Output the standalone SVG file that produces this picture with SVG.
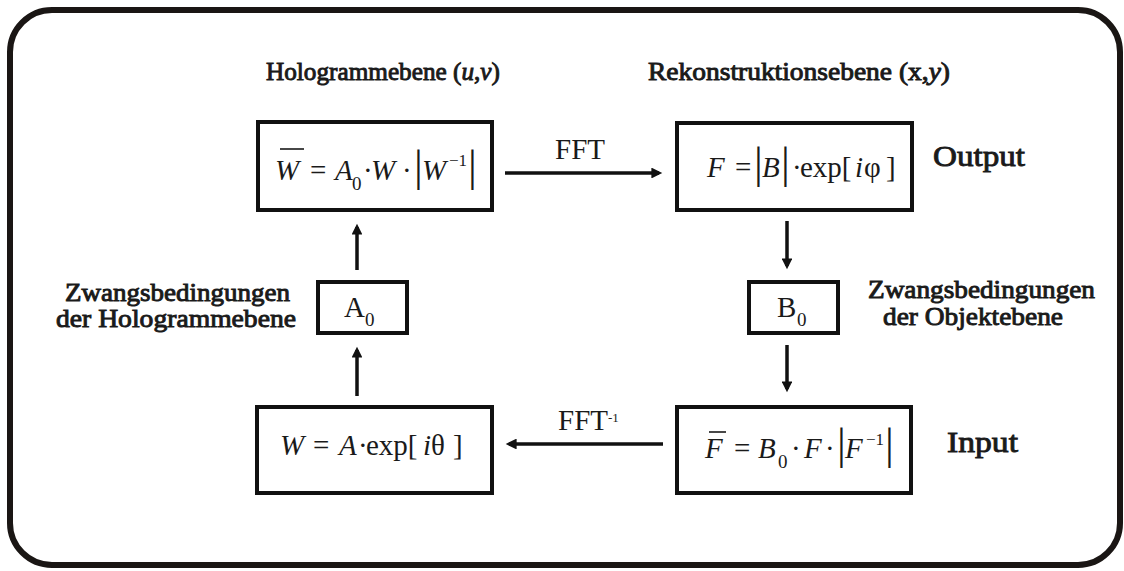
<svg xmlns="http://www.w3.org/2000/svg" width="1124" height="571" viewBox="0 0 1124 571">
<style>
.frame{fill:none;stroke:#1a1614;stroke-width:6}
.box{fill:#fff;stroke:#111;stroke-width:4}
.lbl{font-family:"Liberation Serif","Times New Roman",serif;fill:#1a1a1a;stroke:#1a1a1a;stroke-width:0.9}
.f{font-family:"Liberation Serif","Times New Roman",serif;fill:#1a1a1a;font-size:29px}
.i{font-style:italic}
.sub{font-size:19px}
.sup{font-size:17px}
.bar{font-size:44px}
.con{stroke:#111;stroke-width:3.5;fill:none}
.ov{stroke:#1a1a1a;stroke-width:1.6}
</style>
<defs>
<marker id="ah" viewBox="0 0 10 10" refX="7" refY="5" markerWidth="3.3" markerHeight="3.1" orient="auto" markerUnits="strokeWidth">
<path d="M0,0 L10,5 L0,10 z" fill="#111"/>
</marker>
</defs>
<rect class="frame" x="10" y="10" width="1110" height="555" rx="42"/>
<text class="lbl" x="266" y="80" font-size="25" textLength="234" lengthAdjust="spacingAndGlyphs">Hologrammebene (<tspan font-style="italic">u</tspan>,<tspan font-style="italic">v</tspan>)</text>
<text class="lbl" x="648" y="80" font-size="25" textLength="302" lengthAdjust="spacingAndGlyphs">Rekonstruktionsebene (x,<tspan font-style="italic">y</tspan>)</text>
<g id="n-wbar">
<rect class="box" x="258" y="122" width="234" height="88"/>
<text class="f i" x="275" y="180">W</text>
<line class="ov" x1="280" y1="149" x2="304" y2="149"/>
<text class="f" x="310" y="180">=</text>
<text class="f i" x="335" y="180">A</text>
<text class="f sub" x="352" y="190">0</text>
<text class="f" x="363" y="180">·</text>
<text class="f i" x="371" y="180">W</text>
<text class="f" x="402" y="180">·</text>
<text class="f bar" x="414" y="181">|</text>
<text class="f i" x="422" y="180">W</text>
<text class="f sup" x="449" y="166">−1</text>
<text class="f bar" x="468" y="181">|</text>
</g>
<g id="n-f">
<rect class="box" x="677" y="123" width="235" height="87"/>
<text class="f i" x="707" y="177">F</text>
<text class="f" x="735" y="177">=</text>
<text class="f bar" x="754" y="178">|</text>
<text class="f i" x="762" y="177">B</text>
<text class="f bar" x="781" y="178">|</text>
<text class="f" x="792" y="177">·</text>
<text class="f" x="800" y="177">exp[</text>
<text class="f i" x="855" y="177">i</text>
<text class="f" x="864" y="177">φ</text>
<text class="f" x="886" y="177">]</text>
<text class="lbl" x="933" y="166" font-size="30" textLength="92" lengthAdjust="spacingAndGlyphs">Output</text>
</g>
<g id="n-a0">
<rect class="box" x="318" y="282" width="89" height="51"/>
<text class="f" x="344" y="317">A</text>
<text class="f sub" x="365" y="326">0</text>
<text class="lbl" x="65" y="301" font-size="25" textLength="225" lengthAdjust="spacingAndGlyphs">Zwangsbedingungen</text>
<text class="lbl" x="56" y="327" font-size="25" textLength="240" lengthAdjust="spacingAndGlyphs">der Hologrammebene</text>
</g>
<g id="n-b0">
<rect class="box" x="749" y="282" width="89" height="51"/>
<text class="f" x="777" y="317">B</text>
<text class="f sub" x="797" y="326">0</text>
<text class="lbl" x="868" y="298" font-size="25" textLength="227" lengthAdjust="spacingAndGlyphs">Zwangsbedingungen</text>
<text class="lbl" x="883" y="325" font-size="25" textLength="180" lengthAdjust="spacingAndGlyphs">der Objektebene</text>
</g>
<g id="n-w">
<rect class="box" x="257" y="407" width="235" height="86"/>
<text class="f i" x="280" y="455">W</text>
<text class="f" x="313" y="455">=</text>
<text class="f i" x="339" y="455">A</text>
<text class="f" x="358" y="455">·</text>
<text class="f" x="366" y="455">exp[</text>
<text class="f i" x="423" y="455">i</text>
<text class="f" x="431" y="455">θ</text>
<text class="f" x="453" y="455">]</text>
</g>
<g id="n-fbar">
<rect class="box" x="677" y="407" width="234" height="86"/>
<text class="f i" x="705" y="458">F</text>
<line class="ov" x1="709" y1="432" x2="726" y2="432"/>
<text class="f" x="734" y="458">=</text>
<text class="f i" x="758" y="458">B</text>
<text class="f sub" x="778" y="468">0</text>
<text class="f" x="791" y="458">·</text>
<text class="f i" x="804" y="458">F</text>
<text class="f" x="825" y="458">·</text>
<text class="f bar" x="837" y="459">|</text>
<text class="f i" x="845" y="458">F</text>
<text class="f sup" x="866" y="445">−1</text>
<text class="f bar" x="885" y="459">|</text>
<text class="lbl" x="947" y="452" font-size="30" textLength="71" lengthAdjust="spacingAndGlyphs">Input</text>
</g>
<g id="connectors">
<line class="con" x1="505" y1="173" x2="659" y2="173" marker-end="url(#ah)"/>
<text class="f" x="555" y="159" font-size="20">FFT</text>
<line class="con" x1="663" y1="444" x2="509" y2="444" marker-end="url(#ah)"/>
<text class="f" x="558" y="430" font-size="20">FFT<tspan font-size="13" dy="-8">-1</tspan></text>
<line class="con" x1="357" y1="270" x2="357" y2="227" marker-end="url(#ah)"/>
<line class="con" x1="357" y1="396" x2="357" y2="350" marker-end="url(#ah)"/>
<line class="con" x1="787" y1="221" x2="787" y2="266" marker-end="url(#ah)"/>
<line class="con" x1="787" y1="345" x2="787" y2="389" marker-end="url(#ah)"/>
</g>
</svg>
